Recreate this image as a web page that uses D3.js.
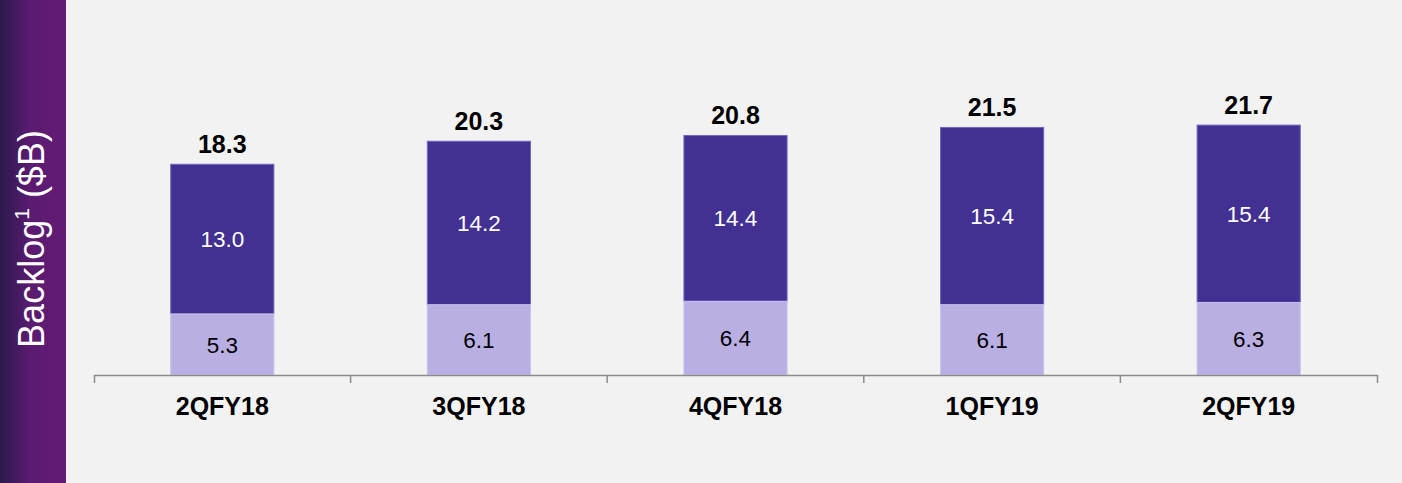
<!DOCTYPE html>
<html>
<head>
<meta charset="utf-8">
<script src="https://cdn.jsdelivr.net/npm/d3@7"></script>
<style>
  html, body { margin: 0; padding: 0; background: #f2f2f2; }
  svg { display: block; }
  text { font-family: Arial, "Liberation Sans", sans-serif; }
</style>
</head>
<body>
<svg id="chart" width="1402" height="483"></svg>
<script>
const categories = ["2QFY18", "3QFY18", "4QFY18", "1QFY19", "2QFY19"];
const lowerValues = [5.3, 6.1, 6.4, 6.1, 6.3];
const upperValues = [13.0, 14.2, 14.4, 15.4, 15.4];
const totalValues = [18.3, 20.3, 20.8, 21.5, 21.7];
const yTitle = "Backlog";

const W = 1402, H = 483;
const svg = d3.select("#chart");

svg.append("rect").attr("width", W).attr("height", H).attr("fill", "#f2f2f2");

const defs = svg.append("defs");
const grad = defs.append("linearGradient").attr("id", "side").attr("x1", "0%").attr("x2", "100%").attr("y1", "0%").attr("y2", "0%");
grad.append("stop").attr("offset", "0%").attr("stop-color", "#2a1a4b");
grad.append("stop").attr("offset", "45%").attr("stop-color", "#5a1b70");
grad.append("stop").attr("offset", "100%").attr("stop-color", "#631b76");
svg.append("rect").attr("x", 0).attr("y", 0).attr("width", 66).attr("height", H).attr("fill", "url(#side)");

const title = svg.append("text")
  .attr("transform", "translate(44,239) rotate(-90)")
  .attr("text-anchor", "middle")
  .attr("fill", "#ffffff")
  .attr("font-size", 36);
title.append("tspan").text(yTitle);
title.append("tspan").attr("font-size", 21).attr("dy", -15).text("1");
title.append("tspan").attr("dy", 15).text(" ($B)");

const baseY = 375;
const x = d3.scaleBand().domain(categories).range([94, 1377]).padding(0);
const y = d3.scaleLinear().domain([0, 25]).range([baseY, baseY - 25 * 11.515]);
const barW = x.bandwidth() * 0.402;

const data = categories.map((c, i) => ({ c, lo: lowerValues[i], hi: upperValues[i], tot: totalValues[i] }));

const g = svg.append("g");
const bars = g.selectAll("g.bar").data(data).join("g").attr("class", "bar");
const bx = d => x(d.c) + x.bandwidth() / 2 - barW / 2;

bars.append("rect")
  .attr("x", bx)
  .attr("width", barW)
  .attr("y", d => y(d.lo + d.hi))
  .attr("height", d => y(d.lo) - y(d.lo + d.hi))
  .attr("fill", "#433093")
  .attr("stroke", "#7466bd").attr("stroke-width", 1);
bars.append("rect")
  .attr("x", bx)
  .attr("width", barW)
  .attr("y", d => y(d.lo))
  .attr("height", d => y(0) - y(d.lo))
  .attr("fill", "#b9afe3")
  .attr("stroke", "#c9c1ec").attr("stroke-width", 1);

bars.append("text")
  .attr("x", d => x(d.c) + x.bandwidth() / 2)
  .attr("y", d => (y(d.lo) + y(d.lo + d.hi)) / 2)
  .attr("dy", "0.36em")
  .attr("text-anchor", "middle")
  .attr("font-size", 22.5)
  .attr("fill", "#ffffff")
  .text(d => d.hi.toFixed(1));
bars.append("text")
  .attr("x", d => x(d.c) + x.bandwidth() / 2)
  .attr("y", d => (y(0) + y(d.lo)) / 2)
  .attr("dy", "0.36em")
  .attr("text-anchor", "middle")
  .attr("font-size", 22.5)
  .attr("fill", "#000000")
  .text(d => d.lo.toFixed(1));
bars.append("text")
  .attr("x", d => x(d.c) + x.bandwidth() / 2)
  .attr("y", d => y(d.tot) - 11.5)
  .attr("text-anchor", "middle")
  .attr("font-size", 25)
  .attr("font-weight", "bold")
  .attr("fill", "#000000")
  .text(d => d.tot.toFixed(1));

const axis = svg.append("g").attr("transform", `translate(0,${baseY})`)
  .call(d3.axisBottom(x).tickSizeInner(0).tickSizeOuter(8).tickPadding(22));
axis.select(".domain").attr("stroke", "#8c8c8c").attr("stroke-width", 1.5);
axis.selectAll(".tick line").remove();
axis.selectAll(".tick text")
  .attr("font-size", 25)
  .attr("font-weight", "bold")
  .attr("fill", "#000000")
  .attr("font-family", "Arial, 'Liberation Sans', sans-serif");
axis.selectAll("line.sep").data(categories.slice(1)).join("line")
  .attr("class", "sep")
  .attr("x1", d => x(d)).attr("x2", d => x(d))
  .attr("y1", 0).attr("y2", 8)
  .attr("stroke", "#8c8c8c").attr("stroke-width", 1.5);
</script>
</body>
</html>
